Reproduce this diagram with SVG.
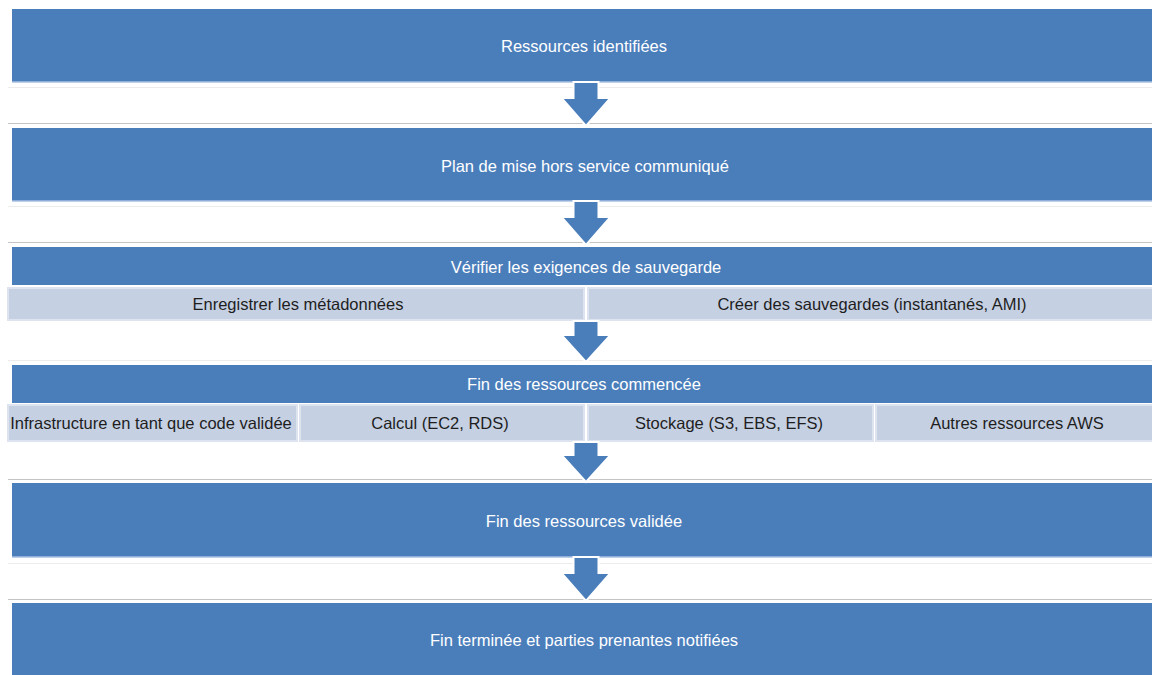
<svg xmlns="http://www.w3.org/2000/svg" width="1152" height="675" viewBox="0 0 1152 675">
<style>
.box{fill:#4a7ebb}
.edge{stroke:#a9c0e2;stroke-width:1.5}
.sub{fill:#c5d0e3;stroke:#dde4ef;stroke-width:2}
.lt{stroke:#ececec;stroke-width:1.2}
.dk{stroke:#c4c4c4;stroke-width:1.2}
.arr{fill:#4a7ebb;stroke:#ffffff;stroke-width:2;stroke-linejoin:miter}
.tw{font-family:"Liberation Sans",Arial,sans-serif;font-size:16.5px;fill:#ffffff;text-anchor:middle;dominant-baseline:central}
.tb{font-family:"Liberation Sans",Arial,sans-serif;font-size:16.5px;fill:#1e1e1e;text-anchor:middle;dominant-baseline:central}
</style>
<rect width="1152" height="675" fill="#ffffff"/>
<g id="bands">
<line class="lt" x1="8" y1="87.5" x2="1152" y2="87.5"/>
<line class="dk" x1="8" y1="123.5" x2="1152" y2="123.5"/>
<line class="lt" x1="8" y1="206.5" x2="1152" y2="206.5"/>
<line class="dk" x1="8" y1="242.5" x2="1152" y2="242.5"/>
<line class="lt" x1="8" y1="360.5" x2="1152" y2="360.5"/>
<line class="dk" x1="8" y1="479.5" x2="1152" y2="479.5"/>
<line class="lt" x1="8" y1="563.5" x2="1152" y2="563.5"/>
<line class="dk" x1="8" y1="599.5" x2="1152" y2="599.5"/>
</g>
<g id="n1"><rect class="box" x="12" y="9" width="1142" height="73"/><line class="edge" x1="12" y1="82" x2="1152" y2="82"/><text class="tw" x="584" y="46">Ressources identifiées</text></g>
<g id="n2"><rect class="box" x="12" y="128" width="1142" height="73"/><line class="edge" x1="12" y1="201" x2="1152" y2="201"/><text class="tw" x="585" y="166">Plan de mise hors service communiqué</text></g>
<g id="n3">
<rect class="box" x="12" y="247" width="1142" height="38"/><text class="tw" x="586" y="267">Vérifier les exigences de sauvegarde</text>
<rect class="sub" x="8" y="288" width="576" height="32"/><text class="tb" x="298" y="304">Enregistrer les métadonnées</text>
<rect class="sub" x="588" y="288" width="566" height="32"/><text class="tb" x="872" y="304">Créer des sauvegardes (instantanés, AMI)</text>
</g>
<g id="n4">
<rect class="box" x="12" y="365" width="1142" height="38"/><text class="tw" x="584" y="384">Fin des ressources commencée</text>
<rect class="sub" x="8" y="405" width="289" height="36"/><text class="tb" x="151" y="423">Infrastructure en tant que code validée</text>
<rect class="sub" x="300" y="405" width="284" height="36"/><text class="tb" x="440" y="423">Calcul (EC2, RDS)</text>
<rect class="sub" x="588" y="405" width="285" height="36"/><text class="tb" x="729" y="423">Stockage (S3, EBS, EFS)</text>
<rect class="sub" x="876" y="405" width="278" height="36"/><text class="tb" x="1017" y="423">Autres ressources AWS</text>
</g>
<g id="n5"><rect class="box" x="12" y="483" width="1142" height="74"/><line class="edge" x1="12" y1="557" x2="1152" y2="557"/><text class="tw" x="584" y="521">Fin des ressources validée</text></g>
<g id="n6"><rect class="box" x="12" y="603" width="1142" height="74"/><text class="tw" x="584" y="640">Fin terminée et parties prenantes notifiées</text></g>
<g id="connectors">
<polygon class="arr" points="573.5,82 598.5,82 598.5,98 610.5,98 586,126 561.5,98 573.5,98"/>
<polygon class="arr" points="573.5,201 598.5,201 598.5,217 610.5,217 586,245 561.5,217 573.5,217"/>
<polygon class="arr" points="573.5,321 598.5,321 598.5,335 610.5,335 586,362 561.5,335 573.5,335"/>
<polygon class="arr" points="573.5,442 598.5,442 598.5,455 610.5,455 586,482 561.5,455 573.5,455"/>
<polygon class="arr" points="573.5,557 598.5,557 598.5,573 610.5,573 586,601 561.5,573 573.5,573"/>
</g>
</svg>
